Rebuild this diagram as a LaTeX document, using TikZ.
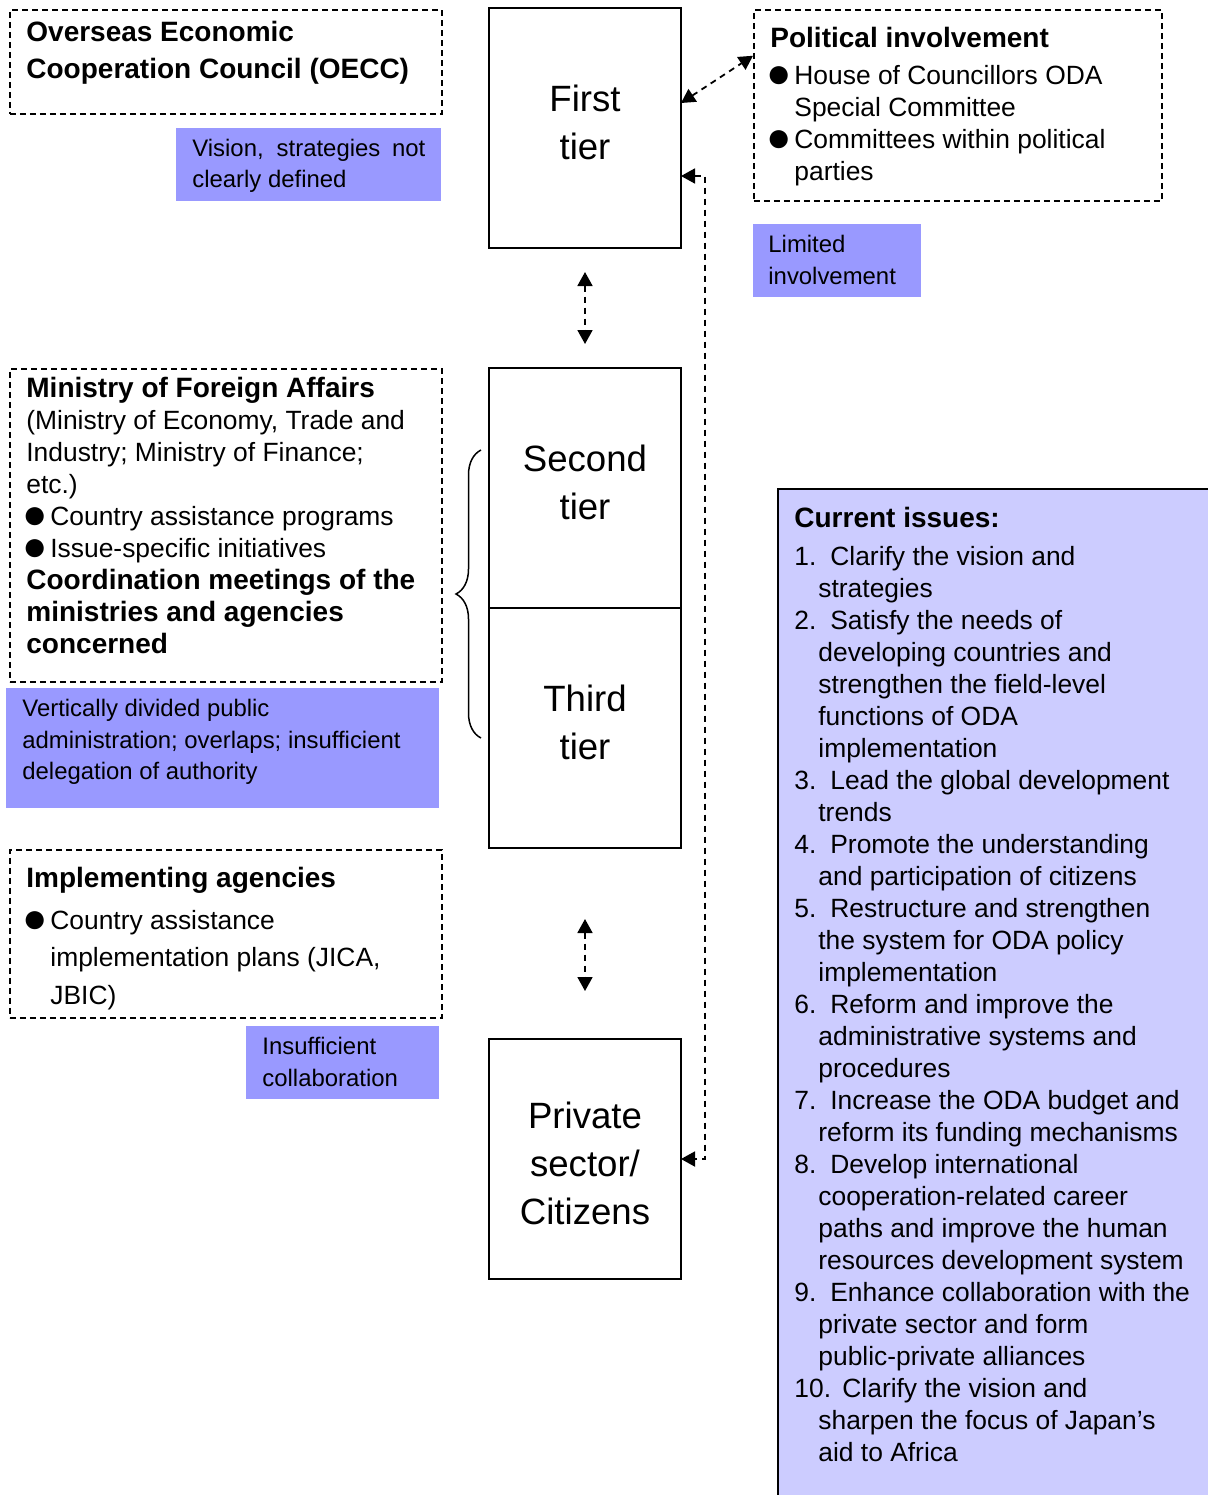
\documentclass[tikz,border=0pt]{standalone}
\usepackage{fontspec}
\setmainfont{Liberation Sans}
\usepackage{xcolor}
\usetikzlibrary{positioning,arrows.meta,decorations.pathreplacing}

\definecolor{notefill}{HTML}{9999FF}
\definecolor{issuefill}{HTML}{CCCCFF}

\newcommand{\bodyfont}{\fontsize{13.2}{16}\selectfont}
\newcommand{\headfont}{\fontsize{14}{16}\selectfont\bfseries}
\newcommand{\notefont}{\fontsize{11.95}{15.75}\selectfont}
\newcommand{\tierfont}{\fontsize{18.3}{24}\selectfont}
\newcommand{\bul}{\makebox[12pt][l]{\hspace*{-1.8pt}\smash{\fontsize{21}{16}\selectfont\raisebox{-1.6pt}{●}}}}
\newcommand{\itm}[1]{\makebox[18pt][l]{#1}}
\newcommand{\cont}{\hspace*{12pt}}

\tikzset{
  tier/.style={draw, line width=1pt, outer sep=0pt, minimum width=96pt,
    minimum height=120pt, align=center, font=\tierfont, text depth=5.5pt},
  dashbox/.style={draw, dash pattern=on 3pt off 2pt, line width=0.75pt,
    anchor=north west, inner sep=0pt},
  note/.style={fill=notefill, anchor=north west, inner sep=0pt},
  txt/.style={anchor=north west, inner sep=0pt, align=left, font=\bodyfont},
  darr/.style={dash pattern=on 3pt off 2.5pt, line width=0.9pt,
    {Triangle[length=7pt,width=7.5pt]}-{Triangle[length=7pt,width=7.5pt]}},
  brace/.style={decorate, decoration={brace, amplitude=12.5pt}, line width=0.75pt},
}

\begin{document}
\begin{tikzpicture}[x=0.5pt, y=-0.5pt]
  \useasboundingbox (0,0) rectangle (1208,1495);
  \clip (0,0) rectangle (1208,1495);

  % tiers
  \node[tier] (first) at (585,128) {First\\tier};
  \node[tier, below=60pt of first] (second) {Second\\tier};
  \node[tier, below=0pt of second] (third) {Third\\tier};
  \node[tier, below=95.5pt of third, text depth=0pt, text height=65pt] (priv)
    {Private\\sector/\\Citizens};

  % left column
  \node[dashbox, minimum width=216pt, minimum height=52pt] (oecc) at (9,9) {};
  \node[txt, font=\headfont] (oecc text) at (26,21)
    {Overseas Economic\\[2.5pt] Cooperation Council (OECC)};
  \node[note, minimum width=132.5pt, minimum height=36.5pt] (vision) at (176,128) {};
  \node[txt, font=\notefont] (vision text) at (192,139)
    {\makebox[116.5pt][s]{Vision, strategies not}\\[-0.25pt] clearly defined};

  \node[dashbox, minimum width=216pt, minimum height=156.5pt] (mofa) at (9,368) {};
  \node[txt] (mofa text) at (26,377)
    {{\headfont Ministry of Foreign Affairs}\\
     (Ministry of Economy, Trade and\\
     Industry; Ministry of Finance;\\
     etc.)\\
     \bul Country assistance programs\\
     \bul Issue-specific initiatives\\
     {\headfont Coordination meetings of the}\\
     {\headfont ministries and agencies}\\
     {\headfont concerned}};
  \node[note, minimum width=216.5pt, minimum height=60pt] (vert) at (6,688) {};
  \node[txt, font=\notefont] (vert text) at (22,699)
    {Vertically divided public\\
     administration; overlaps; insufficient\\
     delegation of authority};

  \node[dashbox, minimum width=216pt, minimum height=84pt] (impl) at (9,849) {};
  \node[txt] (impl text) at (26,867)
    {{\headfont Implementing agencies}\\[4.75pt]
     \bul Country assistance\\[2.75pt]
     \cont implementation plans (JICA,\\[2.75pt]
     \cont JBIC)};
  \node[note, minimum width=96.5pt, minimum height=36.5pt] (insuff) at (246,1026) {};
  \node[txt, font=\notefont] (insuff text) at (262,1037)
    {Insufficient\\ collaboration};

  % right column
  \node[dashbox, minimum width=204pt, minimum height=95.5pt] (pol) at (753,9) {};
  \node[txt] (pol text) at (770,27)
    {{\headfont Political involvement}\\[2.5pt]
     \bul House of Councillors ODA\\
     \cont Special Committee\\
     \bul Committees within political\\
     \cont parties};
  \node[note, minimum width=84pt, minimum height=36.5pt] (limited) at (753,224) {};
  \node[txt, font=\notefont] (limited text) at (768,235)
    {Limited\\ involvement};

  \node[draw, line width=1pt, fill=issuefill, anchor=north west, inner sep=0pt,
    minimum width=217.5pt, minimum height=511pt] (issues) at (777,488) {};
  \node[txt] (issues text) at (794,507)
    {{\headfont Current issues:}\\[3pt]
     \itm{1.}Clarify the vision and\\
     \cont strategies\\
     \itm{2.}Satisfy the needs of\\
     \cont developing countries and\\
     \cont strengthen the field-level\\
     \cont functions of ODA\\
     \cont implementation\\
     \itm{3.}Lead the global development\\
     \cont trends\\
     \itm{4.}Promote the understanding\\
     \cont and participation of citizens\\
     \itm{5.}Restructure and strengthen\\
     \cont the system for ODA policy\\
     \cont implementation\\
     \itm{6.}Reform and improve the\\
     \cont administrative systems and\\
     \cont procedures\\
     \itm{7.}Increase the ODA budget and\\
     \cont reform its funding mechanisms\\
     \itm{8.}Develop international\\
     \cont cooperation-related career\\
     \cont paths and improve the human\\
     \cont resources development system\\
     \itm{9.}Enhance collaboration with the\\
     \cont private sector and form\\
     \cont public-private alliances\\
     \makebox[24pt][l]{10.}Clarify the vision and\\
     \cont sharpen the focus of Japan’s\\
     \cont aid to Africa};

  % connectors
  \draw[darr] ([yshift=-12pt]first.south) -- ([yshift=12pt]second.north);
  \draw[darr] ([yshift=-35.5pt]third.south) -- ([yshift=24pt]priv.north);
  \draw[darr] ([yshift=12.5pt]first.east) -- ([yshift=24.75pt]pol.west);
  \draw[darr] ([yshift=-24pt]first.east) -- ++(12pt,0) |- (priv.east);
  \draw[brace] (481,738) -- (481,450);
\end{tikzpicture}
\end{document}
